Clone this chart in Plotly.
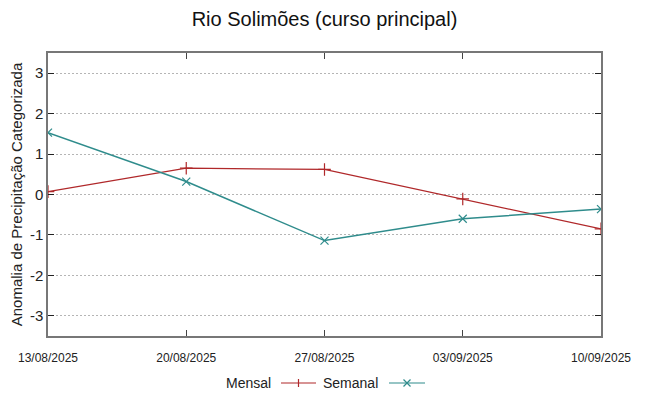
import plotly.graph_objects as go

dates = ["13/08/2025", "20/08/2025", "27/08/2025", "03/09/2025", "10/09/2025"]
mensal = [0.07, 0.65, 0.62, -0.11, -0.85]
semanal = [1.53, 0.32, -1.14, -0.60, -0.36]
yticks = [-3, -2, -1, 0, 1, 2, 3]
ytick_labels = [str(v) for v in yticks]
series_names = ["Mensal", "Semanal"]
RED = "#b0282a"
TEAL = "#2f8c8c"

W, H = 649, 396
OFF = 8  # page body margin
L, R, T, B = 48 - OFF, 601 - OFF, 53 - OFF, 336 - OFF

fig = go.Figure()
fig.add_trace(go.Scatter(x=dates, y=mensal, name=series_names[0], mode="lines+markers",
                         line=dict(color=RED, width=1.2),
                         marker=dict(symbol="cross-thin", size=9,
                                     line=dict(color=RED, width=1.2))))
fig.add_trace(go.Scatter(x=dates, y=semanal, name=series_names[1], mode="lines+markers",
                         line=dict(color=TEAL, width=1.5),
                         marker=dict(symbol="x-thin", size=8,
                                     line=dict(color=TEAL, width=1.2))))

def px(xp):
    return (xp - OFF - L) / (R - L)

def py(yp):
    return (B - (yp - OFF)) / (B - T)

# gnuplot-style legend: text, then line sample with marker
LY = 383
ly = py(LY)
shapes = []
annotations = []
legend_items = [(series_names[0], RED, 273, 281, 316, "+"), (series_names[1], TEAL, 380, 389, 425, "x")]
for name, col, tx, x0, x1, mk in legend_items:
    annotations.append(dict(text=name, x=px(tx), y=ly, xref="paper", yref="paper",
                            xanchor="right", yanchor="middle", showarrow=False,
                            font=dict(size=14, color="#222")))
    shapes.append(dict(type="line", xref="paper", yref="paper", x0=px(x0), x1=px(x1),
                       y0=ly, y1=ly, line=dict(color=col, width=1.2)))
    cx = (x0 + x1) / 2
    if mk == "+":
        shapes.append(dict(type="line", xref="paper", yref="paper", x0=px(cx), x1=px(cx),
                           y0=py(LY - 4), y1=py(LY + 4), line=dict(color=col, width=1.2)))
    else:
        shapes.append(dict(type="line", xref="paper", yref="paper", x0=px(cx - 3.5), x1=px(cx + 3.5),
                           y0=py(LY - 3.5), y1=py(LY + 3.5), line=dict(color=col, width=1.2)))
        shapes.append(dict(type="line", xref="paper", yref="paper", x0=px(cx - 3.5), x1=px(cx + 3.5),
                           y0=py(LY + 3.5), y1=py(LY - 3.5), line=dict(color=col, width=1.2)))

fig.update_layout(
    width=W, height=H,
    margin=dict(l=L, r=W - R, t=T, b=H - B, autoexpand=False),
    paper_bgcolor="white", plot_bgcolor="white",
    font=dict(family="Liberation Sans, Arial, sans-serif", color="#222"),
    title=dict(text="Rio Solimões (curso principal)", x=0.5, xanchor="center",
               xref="paper", yref="container", y=1 - (19 - OFF) / H, yanchor="middle",
               font=dict(size=20, color="#111")),
    showlegend=False,
    shapes=shapes,
    annotations=annotations,
    xaxis=dict(type="category", range=[0, 4], showgrid=False, automargin=False,
               ticks="inside", ticklen=6, tickcolor="#444", mirror="allticks",
               showline=True, linecolor="#777", linewidth=1.5, ticklabelstandoff=10,
               tickfont=dict(family="Liberation Sans Narrow, Liberation Sans, sans-serif", size=12, color="#222"),
               zeroline=False),
    yaxis=dict(range=[-3.5, 3.5], tickvals=yticks, ticktext=ytick_labels, ticks="inside", ticklen=6,
               automargin=False,
               tickcolor="#222", mirror="allticks", showline=True, linecolor="#777",
               linewidth=1.5, showgrid=True, gridcolor="#b5b5b5", griddash="2px,2px",
               gridwidth=1, zeroline=False, tickfont=dict(size=15, color="#222"),
               title=dict(text="Anomalia de Precipitação Categorizada", standoff=4,
                          font=dict(size=15, color="#222"))),
)

fig.write_html("out.html")
